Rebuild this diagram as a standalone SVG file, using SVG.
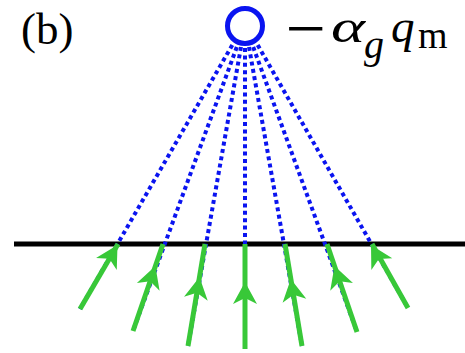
<svg xmlns="http://www.w3.org/2000/svg" width="465" height="353" viewBox="0 0 465 353">
<style>
.dot{stroke:#0a14f0;stroke-width:4;stroke-dasharray:4 3.4;fill:none}
.ray{stroke:#38c838;stroke-width:5;fill:none}
.head{fill:#38c838}
.lbl{font-family:"Liberation Serif",serif;fill:#000}
</style>
<defs>
<path id="ah" d="M0,0 L12,22 L0,16 L-12,22 Z"/>
</defs>
<rect width="465" height="353" fill="#fff"/>
<g id="label-b"><text class="lbl" x="21" y="44" font-size="45">(b)</text></g>
<g id="charge">
<circle cx="245" cy="26" r="17.5" fill="none" stroke="#0a14f0" stroke-width="5"/>
<text class="lbl" x="287" y="44" font-size="46" textLength="38" lengthAdjust="spacingAndGlyphs" stroke="#000" stroke-width="1.3">−</text>
<text class="lbl" x="331" y="42" font-size="47" font-style="italic" textLength="34" lengthAdjust="spacingAndGlyphs">α</text>
<text class="lbl" x="364" y="58" font-size="40" font-style="italic">g</text>
<text class="lbl" x="391" y="42" font-size="47" font-style="italic">q</text>
<text class="lbl" x="418" y="48" font-size="38">m</text>
</g>
<g id="surface"><line x1="14" y1="244" x2="465" y2="244" stroke="#000" stroke-width="5"/></g>
<g id="connectors">
<g id="dotted">
<line class="dot" x1="232.3" y1="45" x2="80" y2="309"/>
<line class="dot" x1="236.8" y1="47" x2="133" y2="331"/>
<line class="dot" x1="241" y1="47" x2="188" y2="346"/>
<line class="dot" x1="245" y1="48" x2="245" y2="349"/>
<line class="dot" x1="249" y1="47" x2="302" y2="346"/>
<line class="dot" x1="253.2" y1="47" x2="357" y2="332"/>
<line class="dot" x1="257.7" y1="45" x2="408" y2="308"/>
</g>
<g id="rays">
<line class="ray" x1="118" y1="244" x2="80" y2="309"/>
<line class="ray" x1="163" y1="244" x2="133" y2="331"/>
<line class="ray" x1="205" y1="244" x2="188" y2="346"/>
<line class="ray" x1="245" y1="244" x2="245" y2="349"/>
<line class="ray" x1="285" y1="244" x2="302" y2="346"/>
<line class="ray" x1="327" y1="244" x2="357" y2="332"/>
<line class="ray" x1="372" y1="244" x2="408" y2="308"/>
<use href="#ah" class="head" transform="translate(117.5,245) rotate(30.3)"/>
<use href="#ah" class="head" transform="translate(155.4,266) rotate(19)"/>
<use href="#ah" class="head" transform="translate(199.5,277) rotate(9.5)"/>
<use href="#ah" class="head" transform="translate(245,282)"/>
<use href="#ah" class="head" transform="translate(290.8,279) rotate(-9.5)"/>
<use href="#ah" class="head" transform="translate(334.5,266) rotate(-18.8)"/>
<use href="#ah" class="head" transform="translate(371,245) rotate(-29.4)"/>
</g>
</g>
</svg>
